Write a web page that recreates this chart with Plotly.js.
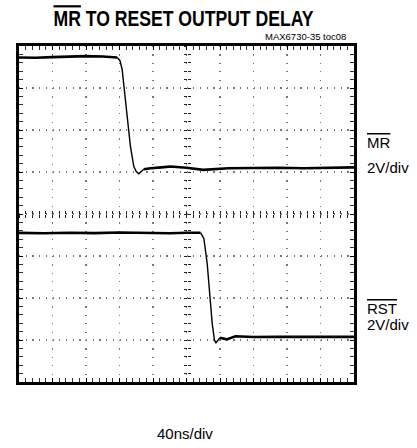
<!DOCTYPE html>
<html><head><meta charset="utf-8">
<script src="https://cdn.plot.ly/plotly-3.0.1.min.js"></script>
<style>html,body{margin:0;padding:0;background:#fff}</style>
</head><body>
<div id="chart" style="width:417px;height:448px"></div>
<script>
// Time in ns (40 ns/div, 10 div), voltage in screen volts (2 V/div, center = 0)
const mrHighTime = [0, 20, 40, 60, 80, 100, 117.3];
const mrHighVolts = [7.45, 7.44, 7.47, 7.50, 7.52, 7.50, 7.45];
const mrFallTime = [117.3, 120.6, 123.2, 126.0, 129.2, 133.1, 137.1, 140.0, 143.0, 149.0];
const mrFallVolts = [7.45, 7.30, 6.87, 5.92, 4.64, 3.21, 2.26, 2.02, 1.91, 2.13];
const mrLowTime = [149.0, 157, 170, 181, 200, 220, 250, 280, 310, 340, 370, 400];
const mrLowVolts = [2.13, 2.18, 2.22, 2.26, 2.20, 2.10, 2.18, 2.20, 2.20, 2.18, 2.20, 2.22];

const rstHighTime = [0, 30, 60, 90, 120, 150, 180, 200, 216.7];
const rstHighVolts = [-0.90, -0.92, -0.89, -0.91, -0.88, -0.90, -0.92, -0.89, -0.89];
const rstFallTime = [216.7, 220.7, 224.7, 227.8, 230.7, 233.4, 235.2, 240.0];
const rstFallVolts = [-0.89, -1.16, -2.35, -3.95, -5.22, -6.01, -6.13, -5.89];
const rstLowTime = [240.0, 247.8, 258.5, 280, 310, 340, 370, 400];
const rstLowVolts = [-5.89, -5.97, -5.82, -5.86, -5.85, -5.84, -5.86, -5.85];

const xRange = [0, 400];
const yRange = [-8, 8];

const W = 417, H = 448, mL = 19, mR = 63, mT = 46, mB = 66;
const pw = W - mL - mR, ph = H - mT - mB;
const px = v => (v - mL) / pw;
const py = v => (H - mB - v) / ph;
const titleCx = 183.5;

const flat = 2.6, thin = 1.4;
function tr(x, y, w) {
  return {x: x, y: y, type: 'scatter', mode: 'lines', line: {color: '#000', width: w}, hoverinfo: 'skip', showlegend: false};
}
const data = [
  tr(mrHighTime, mrHighVolts, flat), tr(mrFallTime, mrFallVolts, thin), tr(mrLowTime, mrLowVolts, flat),
  tr(rstHighTime, rstHighVolts, flat), tr(rstFallTime, rstFallVolts, thin), tr(rstLowTime, rstLowVolts, flat),
  {x: [], y: [], xaxis: 'x2', yaxis: 'y', type: 'scatter', showlegend: false},
  {x: [], y: [], xaxis: 'x3', yaxis: 'y', type: 'scatter', showlegend: false},
  {x: [], y: [], xaxis: 'x', yaxis: 'y2', type: 'scatter', showlegend: false},
  {x: [], y: [], xaxis: 'x', yaxis: 'y3', type: 'scatter', showlegend: false}
];

const fnt = 'Liberation Sans, Arial, sans-serif';
const crossX = dir => ({overlaying: 'x', anchor: 'free', position: 0.5, range: xRange, showgrid: false, zeroline: false,
  showline: false, showticklabels: false, ticks: dir, ticklen: 3, tickwidth: 1, tickcolor: '#222', dtick: 8, tick0: 0});
const crossY = dir => ({overlaying: 'y', anchor: 'free', position: 0.5, range: yRange, showgrid: false, zeroline: false,
  showline: false, showticklabels: false, ticks: dir, ticklen: 3, tickwidth: 1, tickcolor: '#222', dtick: 0.4, tick0: 0});

const layout = {
  width: W, height: H,
  margin: {l: mL, r: mR, t: mT, b: mB},
  paper_bgcolor: '#fff', plot_bgcolor: '#fff',
  showlegend: false,
  title: {
    text: '<b><span style="text-decoration:overline">MR</span> TO RESET OUTPUT DELAY</b>',
    font: {family: 'Liberation Sans Narrow, Arial Narrow, Liberation Sans, Arial, sans-serif', size: 22, color: '#000'},
    xref: 'container', yref: 'container', x: titleCx / W, y: 1 - 18.5 / H, xanchor: 'center', yanchor: 'middle'
  },
  xaxis: {
    range: xRange, dtick: 40, tick0: 0, showgrid: true, gridcolor: '#777', gridwidth: 1.2, griddash: '1.2px,7.2px',
    zeroline: false, showline: true, linecolor: '#000', linewidth: 3, mirror: 'allticks',
    ticks: 'inside', ticklen: 4, tickcolor: '#000', showticklabels: false,
    minor: {dtick: 8, ticks: 'inside', ticklen: 3, tickcolor: '#333', showgrid: false}
  },
  yaxis: {
    range: yRange, dtick: 2, tick0: 0, showgrid: true, gridcolor: '#777', gridwidth: 1.2, griddash: '1.2px,5.5px',
    zeroline: false, showline: true, linecolor: '#000', linewidth: 3, mirror: 'allticks',
    ticks: 'inside', ticklen: 4, tickcolor: '#000', showticklabels: false,
    minor: {dtick: 0.4, ticks: 'inside', ticklen: 3, tickcolor: '#333', showgrid: false}
  },
  xaxis2: crossX('inside'), xaxis3: crossX('outside'),
  yaxis2: crossY('inside'), yaxis3: crossY('outside'),
  annotations: [
    {text: 'MAX6730-35 toc08', xref: 'paper', yref: 'paper', x: px(347.5), y: py(36), xanchor: 'right', yanchor: 'middle',
     showarrow: false, font: {family: fnt, size: 9.5, color: '#000'}},
    {text: '<span style="text-decoration:overline">MR</span>', xref: 'paper', yref: 'paper', x: px(365), y: py(142.5), xanchor: 'left', yanchor: 'middle',
     showarrow: false, font: {family: fnt, size: 15, color: '#000'}},
    {text: '2V/div', xref: 'paper', yref: 'paper', x: px(365), y: py(167), xanchor: 'left', yanchor: 'middle',
     showarrow: false, font: {family: fnt, size: 15, color: '#000'}},
    {text: '<span style="text-decoration:overline">RST</span>', xref: 'paper', yref: 'paper', x: px(365), y: py(308), xanchor: 'left', yanchor: 'middle',
     showarrow: false, font: {family: fnt, size: 15, color: '#000'}},
    {text: '2V/div', xref: 'paper', yref: 'paper', x: px(365), y: py(324.5), xanchor: 'left', yanchor: 'middle',
     showarrow: false, font: {family: fnt, size: 15, color: '#000'}},
    {text: '40ns/div', xref: 'paper', yref: 'paper', x: px(185), y: py(433.5), xanchor: 'center', yanchor: 'middle',
     showarrow: false, font: {family: fnt, size: 15, color: '#000'}}
  ]
};

Plotly.newPlot('chart', data, layout, {staticPlot: true, displayModeBar: false}).then(function () {
  // the reference title uses a condensed face; narrow the bold title horizontally
  const t = document.querySelector('.gtitle');
  if (t) t.setAttribute('transform', 'translate(' + titleCx + ',0) scale(0.8,1) translate(' + (-titleCx) + ',0)');
});
</script>
</body></html>
